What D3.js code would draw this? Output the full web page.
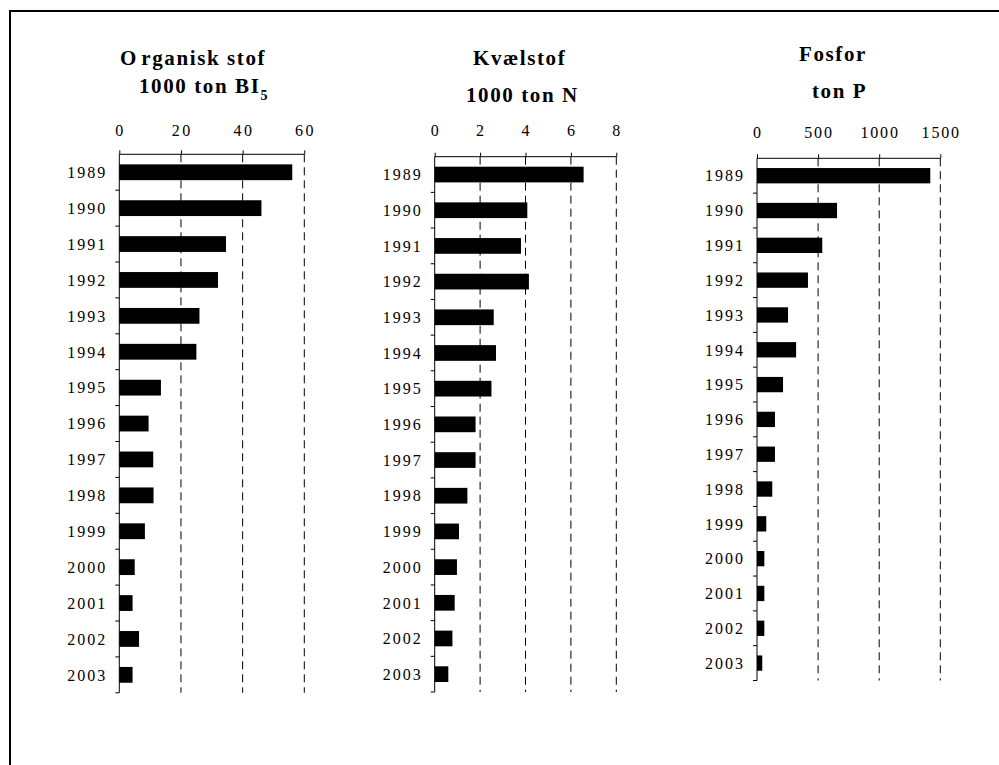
<!DOCTYPE html>
<html><head><meta charset="utf-8">
<script src="https://cdn.jsdelivr.net/npm/d3@7"></script>
<style>
html,body{margin:0;padding:0;background:#fff;}
svg{display:block;}
svg text{font-family:"Liberation Serif","Times New Roman",serif;fill:#000;}
</style></head>
<body>
<svg id="chart" width="999" height="765"></svg>
<script>
const years = ["1989","1990","1991","1992","1993","1994","1995","1996","1997","1998","1999","2000","2001","2002","2003"];
const organiskStof = [56.1,46.1,34.6,32,26,25,13.5,9.5,11,11.1,8.3,5,4.3,6.4,4.3];
const kvaelstof = [6.56,4.08,3.8,4.15,2.6,2.7,2.5,1.8,1.8,1.44,1.07,0.98,0.88,0.78,0.6];
const fosfor = [1418,655,534,417,254,320,213,147,147,125,76,60,60,60,43];
const ticksOrganisk = [0,20,40,60];
const ticksKvaelstof = [0,2,4,6,8];
const ticksFosfor = [0,500,1000,1500];

const FONT = "Liberation Serif";
const svg = d3.select("#chart");
svg.append("rect").attr("x",10).attr("y",11).attr("width",1000).attr("height",800)
  .attr("fill","none").attr("stroke","#000").attr("stroke-width",2);

const panels = [
  {values:organiskStof, ticks:ticksOrganisk, max:60, x0:119.3, x1:304.3, yTop:154.3, yBot:692.8, lblOff:18, tickSpacing:2.5,
   title:[{t:"O", t2:"rganisk stof", x:120, y:65},{t:"1000 ton BI", sub:"5", x:139, y:93}]},
  {values:kvaelstof, ticks:ticksKvaelstof, max:8, x0:434.7, x1:616.3, yTop:156.7, yBot:692, lblOff:20.5, tickSpacing:2,
   title:[{t:"Kvælstof", x:473, y:65},{t:"1000 ton N", x:466, y:102}]},
  {values:fosfor, ticks:ticksFosfor, max:1500, x0:757, x1:940.3, yTop:158.3, yBot:680.5, lblOff:20.5, tickSpacing:1.8,
   title:[{t:"Fosfor", x:799, y:61},{t:"ton P", x:812, y:98}]}
];

panels.forEach(p => {
  const g = svg.append("g").attr("font-family",FONT);
  const x = d3.scaleLinear().domain([0,p.max]).range([p.x0,p.x1]);
  const y = d3.scaleBand().domain(years).range([p.yTop,p.yBot]).paddingInner(0.56).paddingOuter(0.28);
  const step = y.step();

  p.title.forEach(l => {
    const t = g.append("text").attr("x",l.x).attr("y",l.y).attr("font-family",FONT)
      .style("font-size","21px").style("font-weight","bold").style("letter-spacing","1.6px");
    if (l.t2) {
      t.append("tspan").style("letter-spacing","5px").text(l.t);
      t.append("tspan").text(l.t2);
    } else t.text(l.t);
    if (l.sub) t.append("tspan").attr("dy",7).style("font-size","14px").text(l.sub);
  });

  g.selectAll("line.grid").data(p.ticks.slice(1)).join("line").attr("class","grid")
    .attr("x1",d=>x(d)).attr("x2",d=>x(d)).attr("y1",p.yTop).attr("y2",p.yBot)
    .attr("stroke","#000").attr("stroke-width",1).attr("stroke-dasharray","8,5");

  g.selectAll("rect.bar").data(p.values).join("rect").attr("class","bar")
    .attr("x",x(0)).attr("y",(d,i)=>y(years[i]))
    .attr("width",d=>x(d)-x(0)).attr("height",y.bandwidth()).attr("fill","#000");

  const ax = d3.axisTop(x).tickValues(p.ticks).tickSize(4).tickFormat(d=>"");
  const axg = g.append("g").attr("transform",`translate(0,${p.yTop})`).call(ax);
  axg.select(".domain").attr("d",`M${p.x0},0H${p.x1}`).attr("stroke","#000");
  axg.selectAll(".tick line").attr("stroke","#000");
  g.selectAll("text.tl").data(p.ticks).join("text").attr("class","tl")
    .attr("x",d=>x(d)+p.tickSpacing/2).attr("y",p.yTop-p.lblOff).attr("font-family",FONT)
    .attr("text-anchor","middle").style("font-size","16px").style("letter-spacing",p.tickSpacing+"px")
    .text(d=>d);

  g.append("line").attr("x1",x(0)).attr("x2",x(0)).attr("y1",p.yTop).attr("y2",p.yBot)
    .attr("stroke","#000").attr("stroke-width",1);
  const bounds = years.map(d=>y(d)-(step-y.bandwidth())/2).concat([p.yBot]);
  g.selectAll("line.yt").data(bounds.slice(1)).join("line").attr("class","yt")
    .attr("x1",x(0)-4).attr("x2",x(0)).attr("y1",d=>d).attr("y2",d=>d)
    .attr("stroke","#000").attr("stroke-width",1);
  g.selectAll("text.yl").data(years).join("text").attr("class","yl")
    .attr("x",x(0)-12).attr("y",d=>y(d)+y.bandwidth()/2).attr("dy","0.36em").attr("font-family",FONT)
    .attr("text-anchor","end").style("font-size","16px").style("letter-spacing","2px")
    .text(d=>d);
});
</script>
</body></html>
